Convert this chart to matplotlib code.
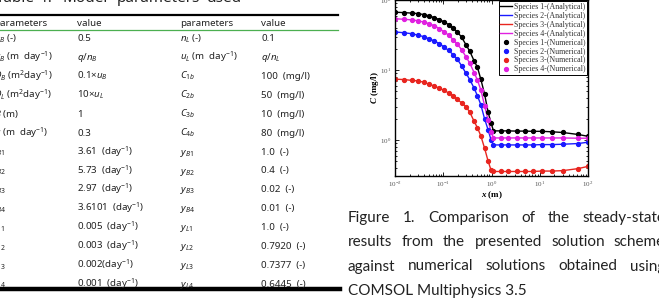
import numpy as np
import matplotlib
matplotlib.use("Agg")
from matplotlib import pyplot as plt
from matplotlib.lines import Line2D

plt.rcParams['font.family'] = ['Liberation Serif', 'DejaVu Sans']
plt.rcParams['mathtext.fontset'] = 'custom'
plt.rcParams['mathtext.rm'] = 'Noto Sans'
plt.rcParams['mathtext.it'] = 'Noto Sans:italic'
plt.rcParams['mathtext.bf'] = 'Liberation Serif:bold'
plt.rcParams['mathtext.bfit'] = 'Liberation Serif:italic:bold'

# ---- chart data ----
x_m = [0.01, 0.0155, 0.0224, 0.0295, 0.039, 0.050, 0.065, 0.083, 0.105, 0.129,
       0.162, 0.195, 0.24, 0.295, 0.355, 0.436, 0.51, 0.60, 0.72, 0.85,
       0.98, 1.1, 1.6, 2.2, 3.3, 4.9, 7.2, 11, 18, 30, 62, 100]
c_sp1 = [67, 66, 65, 64, 62, 59.5, 56, 52.5, 48.5, 44.5,
         39.5, 35, 29.5, 23, 18.5, 13.5, 11.0, 7.4, 4.5, 2.5,
         1.75, 1.35, 1.35, 1.35, 1.34, 1.34, 1.33, 1.33, 1.31, 1.28, 1.2, 1.13]
c_sp2 = [35, 34, 33, 31.5, 30, 28, 26, 23.8, 21.2, 19,
         16.5, 14.3, 11.5, 9.0, 7.3, 5.5, 4.3, 3.2, 2.0, 1.4,
         1.0, 0.85, 0.85, 0.85, 0.85, 0.85, 0.85, 0.86, 0.86, 0.87, 0.89, 0.93]
c_sp3 = [7.4, 7.3, 7.1, 7.0, 6.7, 6.3, 5.9, 5.5, 5.1, 4.7,
         4.3, 3.8, 3.4, 3.0, 2.5, 1.85, 1.5, 1.15, 0.76, 0.5,
         0.37, 0.355, 0.355, 0.355, 0.355, 0.355, 0.355, 0.36, 0.36, 0.365, 0.39, 0.42]
c_sp4 = [54, 53, 52, 50.5, 48.5, 46, 43, 39, 35, 31.5,
         27, 23.5, 19.5, 15.5, 12.5, 9.2, 7.2, 5.2, 3.1, 1.9,
         1.3, 1.07, 1.07, 1.07, 1.07, 1.07, 1.07, 1.07, 1.07, 1.07, 1.06, 1.06]
species = ['Species 1', 'Species 2', 'Species 3', 'Species 4']
colors = ['black', '#1a1aff', '#e8251f', '#e020e0']

# ---- table data ----
tab_header = ['parameters', 'value', 'parameters', 'value']
col1 = [r'$n_B$ (-)', r'$u_B$ (m  day$^{-1}$)', r'$D_B$ (m$^2$day$^{-1}$)',
        r'$D_L$ (m$^2$day$^{-1}$)', r'$B$ (m)', r'$q$ (m  day$^{-1}$)',
        r'$k_{B1}$', r'$k_{B2}$', r'$k_{B3}$', r'$k_{B4}$',
        r'$k_{L1}$', r'$k_{L2}$', r'$k_{L3}$', r'$k_{L4}$']
col2 = ['0.5', r'$q/n_B$', r'0.1×$u_B$', r'10×$u_L$', '1', '0.3',
        r'3.61  (day$^{-1}$)', r'5.73  (day$^{-1}$)', r'2.97  (day$^{-1}$)',
        r'3.6101  (day$^{-1}$)', r'0.005  (day$^{-1}$)', r'0.003  (day$^{-1}$)',
        r'0.002(day$^{-1}$)', r'0.001  (day$^{-1}$)']
col3 = [r'$n_L$ (-)', r'$u_L$ (m  day$^{-1}$)', r'$C_{1b}$', r'$C_{2b}$',
        r'$C_{3b}$', r'$C_{4b}$', r'$y_{B1}$', r'$y_{B2}$', r'$y_{B3}$',
        r'$y_{B4}$', r'$y_{L1}$', r'$y_{L2}$', r'$y_{L3}$', r'$y_{L4}$']
col4 = ['0.1', r'$q/n_L$', '100  (mg/l)', '50  (mg/l)', '10  (mg/l)',
        '80  (mg/l)', '1.0  (-)', '0.4  (-)', '0.02  (-)', '0.01  (-)',
        '1.0  (-)', '0.7920  (-)', '0.7377  (-)', '0.6445  (-)']

caption = ['Figure 1. Comparison of the steady-state',
           'results from the presented solution scheme',
           'against numerical solutions obtained using',
           'COMSOL Multiphysics 3.5']

W, H = 659, 299
fig = plt.figure(figsize=(W / 100, H / 100), dpi=100)


def fx(x):
    return x / W


def fy(y):
    return 1 - y / H


# ---- table (left) ----
sans = ['Noto Sans', 'DejaVu Sans']
cap_font = ['Lato', 'DejaVu Sans']
tcol = '#222222'
title_words = [('Table', -4), ('1.', 40), ('Model', 63), ('parameters', 117), ('used', 207)]
for w, x in title_words:
    fig.text(fx(x), fy(2.2), w, family=sans, fontsize=11, color=tcol, va='baseline')

fig.add_artist(Line2D([0, fx(338)], [fy(15), fy(15)], color='black', lw=1.6))
fig.add_artist(Line2D([0, fx(338)], [fy(30), fy(30)], color='#4caf50', lw=0.9))
fig.add_artist(Line2D([0, fx(340)], [fy(289), fy(289)], color='black', lw=3.2))

col_x = [-6, 77, 180, 261]
for j, h in enumerate(tab_header):
    fig.text(fx(col_x[j]), fy(26.5), h, family=sans, fontsize=7, color=tcol, va='baseline')
for i in range(len(col1)):
    yb = 37.7 + 18.9 * i + 3.5
    for j, col in enumerate([col1, col2, col3, col4]):
        x0 = col_x[j]
        if j == 0 and i >= 6:
            x0 = -8
        fig.text(fx(x0), fy(yb), col[i], family=sans, fontsize=7, color=tcol, va='baseline')

# ---- chart (right) ----
ax = fig.add_axes([fx(395), fy(176), fx(588) - fx(395), fy(0) - fy(176)])
for name, c, col in zip(species, [c_sp1, c_sp2, c_sp3, c_sp4], colors):
    ax.plot(x_m, c, '-', color=col, lw=1.0, label=name + '-(Analytical)')
for name, c, col in zip(species, [c_sp1, c_sp2, c_sp3, c_sp4], colors):
    ax.plot(x_m, c, 'o', color=col, ms=2.8, ls='none', label=name + '-(Numerical)')

ax.set_xscale('log')
ax.set_yscale('log')
ax.set_xlim(0.01, 100)
ax.set_ylim(0.306, 100)
ax.tick_params(which='both', direction='in', top=True, right=True,
               labelsize=5, labelcolor='#555555', width=0.6)
ax.tick_params(which='major', length=3, pad=2.5)
ax.tick_params(which='minor', length=1.6)
for s in ax.spines.values():
    s.set_linewidth(1.0)
ax.set_xlabel(r'$\mathbfit{x}$ (m)', fontsize=6.5, fontweight='bold', labelpad=0.5)
ax.set_ylabel(r'$\mathbfit{C}$ (mg/l)', fontsize=6.5, fontweight='bold', labelpad=-0.5)

leg = ax.legend(loc='upper right', fontsize=5.7, labelspacing=0.12, handlelength=1.5,
                handletextpad=0.2, borderpad=0.2, borderaxespad=0.15, fancybox=False,
                framealpha=1, edgecolor='black')
leg.get_frame().set_linewidth(0.7)
for t in leg.get_texts():
    t.set_color('#333333')

# ---- caption, justified to a right margin just past the picture edge ----
renderer = fig.canvas.get_renderer()
cap_left = 348
cap_right = 665
cap_base = [221.7, 246, 270.5, 295]
for k, (line, yb) in enumerate(zip(caption, cap_base)):
    if k == len(caption) - 1:
        fig.text(fx(cap_left), fy(yb), line, family=cap_font, fontsize=11, color=tcol, va='baseline')
        continue
    words = line.split(' ')
    texts = [fig.text(0, fy(yb), w, family=cap_font, fontsize=11, color=tcol, va='baseline')
             for w in words]
    widths = [t.get_window_extent(renderer).width for t in texts]
    gap = (cap_right - cap_left - sum(widths)) / (len(words) - 1)
    x = cap_left
    for t, wd in zip(texts, widths):
        t.set_x(fx(x))
        x += wd + gap

fig.savefig('out.png', dpi=100)
